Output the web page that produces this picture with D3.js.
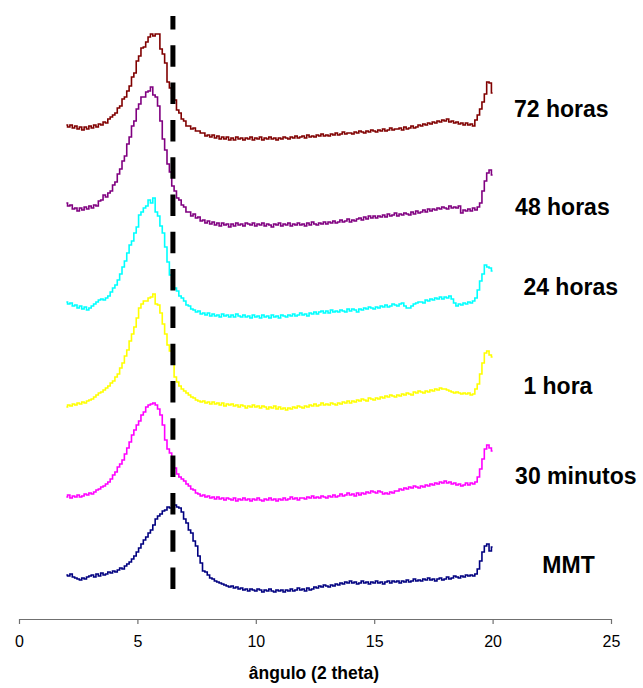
<!DOCTYPE html>
<html>
<head>
<meta charset="utf-8">
<script src="https://cdn.jsdelivr.net/npm/d3@7"></script>
<style>
  html, body { margin: 0; padding: 0; background: #ffffff; }
  svg { display: block; }
</style>
</head>
<body>
<div id="chart"></div>
<script>
// ---- DATA ----
const angles = d3.range(181).map(i => Math.round((2 + i * 0.1) * 10) / 10); // 2.0 .. 20.0 (2 theta)
const xTicks = [0, 5, 10, 15, 20, 25];
const xTitle = "ângulo (2 theta)";
const seriesNames = ["72 horas", "48 horas", "24 horas", "1 hora", "30 minutos", "MMT"];
const seriesColors = ["#800000", "#800080", "#00FFFF", "#FFFF00", "#FF00FF", "#000080"];

// intensities (stacked, arbitrary units) at each angle
const h72 = [
  494,492,494,491,493,490,492,489,492,490,
  493,491,494,492,495,494,497,496,500,502,
  504,506,511,513,520,522,528,533,542,546,
  558,563,571,572,577,582,585,583,585,585,
  570,565,556,537,531,525,519,509,506,500,
  498,493,493,490,491,488,488,486,486,483,
  484,482,484,481,483,480,482,480,482,479,
  481,479,482,480,481,479,481,480,482,479,
  481,480,482,479,481,480,482,480,481,479,
  481,480,482,481,480,482,481,483,481,482,
  483,481,484,482,483,482,484,483,485,483,
  484,483,485,484,486,484,485,487,485,486,
  486,485,487,486,488,487,486,488,487,489,
  488,487,489,488,490,488,489,491,489,490,
  490,491,489,492,490,491,493,491,492,494,
  493,495,494,496,495,497,496,498,497,499,
  498,500,497,498,496,497,495,496,494,496,
  494,495,493,499,504,510,517,525,537,536,
  526];
const h48 = [
  416,413,414,410,411,408,411,409,412,410,
  413,411,414,413,418,419,424,422,426,428,
  434,437,445,450,458,463,475,482,493,498,
  510,515,522,522,527,528,532,524,522,513,
  498,480,469,455,447,433,428,421,419,414,
  412,407,407,403,405,401,402,398,399,396,
  398,395,397,394,396,393,396,394,395,392,
  395,393,396,394,395,393,396,395,394,396,
  393,395,394,396,393,395,394,392,395,394,
  396,393,395,394,396,393,395,394,396,394,
  395,393,396,394,397,395,394,396,395,397,
  395,397,396,398,396,397,399,397,398,400,
  397,399,398,400,401,399,402,400,403,401,
  403,401,403,402,404,402,405,403,404,406,
  403,405,404,406,405,404,407,405,408,406,
  407,409,407,410,408,410,409,411,410,412,
  411,410,413,411,412,411,413,406,409,408,
  410,408,411,409,412,416,428,438,446,449,
  444];
const h24 = [
  317,315,316,313,314,311,313,310,312,309,
  311,313,315,317,319,320,319,321,323,327,
  331,334,339,345,352,358,366,374,378,386,
  392,404,407,411,413,419,416,421,407,403,
  393,386,372,357,344,337,331,328,323,321,
  318,314,313,310,309,307,308,305,306,304,
  306,303,305,303,304,302,305,303,304,302,
  304,302,305,303,302,304,302,303,301,304,
  302,303,301,304,302,303,301,304,302,303,
  301,304,303,302,304,303,305,303,304,306,
  304,305,303,306,305,307,305,307,308,306,
  308,306,309,307,308,307,309,308,307,310,
  308,310,309,307,310,309,311,310,312,311,
  310,312,311,313,312,314,312,313,315,314,
  313,315,316,313,311,311,313,315,316,317,
  317,316,319,318,320,319,321,320,322,320,
  322,321,323,320,316,313,315,314,316,315,
  317,316,318,321,329,338,345,354,352,351,
  348];
const h1 = [
  212,214,213,215,214,216,215,217,216,218,
  219,220,222,224,226,227,229,231,233,236,
  238,242,245,251,256,263,269,278,285,292,
  301,311,315,318,318,321,322,325,315,314,
  306,295,285,274,268,258,242,237,233,230,
  228,226,224,222,221,219,218,217,218,216,
  217,215,217,215,216,214,216,213,215,214,
  215,213,214,212,214,213,211,213,212,214,
  212,213,211,213,212,210,212,211,213,210,
  212,210,211,209,211,210,212,211,213,212,
  211,213,212,214,213,215,213,214,216,214,
  215,214,216,215,214,216,215,217,216,218,
  216,218,217,219,218,220,219,218,221,220,
  219,221,220,222,221,223,222,224,223,222,
  224,223,225,224,226,225,224,227,226,228,
  227,226,228,227,229,228,230,229,231,230,
  230,229,228,227,226,227,226,225,226,225,
  226,224,225,230,235,245,256,266,268,264,
  262];
const h30 = [
  122,124,121,123,122,124,122,123,125,124,
  126,125,127,129,130,132,133,135,137,140,
  144,147,152,155,159,165,171,177,184,189,
  194,198,204,207,212,214,215,216,214,210,
  204,194,179,170,166,159,151,145,142,140,
  138,135,133,130,129,126,125,123,124,122,
  123,121,122,120,122,120,121,119,121,120,
  119,121,118,120,119,121,119,120,118,120,
  119,121,119,118,120,119,121,119,120,118,
  120,119,121,119,120,122,120,121,119,121,
  121,120,122,121,123,121,122,121,123,122,
  121,123,122,124,122,123,125,123,124,126,
  124,125,123,126,124,126,125,127,126,128,
  127,126,128,127,125,126,125,127,126,128,
  128,130,129,131,130,132,131,133,132,131,
  133,132,134,133,135,134,136,135,137,136,
  138,136,137,135,136,134,135,133,134,136,
  134,136,135,137,142,150,160,170,174,171,
  168];
const hMMT = [
  44,43,45,42,41,40,39,41,40,42,
  43,44,42,45,43,46,44,45,47,46,
  48,47,49,51,50,53,55,57,60,63,
  67,71,75,79,82,86,89,94,100,103,
  105,108,109,112,111,113,114,112,111,107,
  100,96,89,86,78,73,63,56,48,47,
  44,41,40,38,37,36,35,34,33,32,
  33,31,32,30,31,29,30,28,30,29,
  28,30,29,27,29,28,30,28,27,29,
  28,29,27,29,28,30,28,29,31,29,
  30,28,31,29,30,32,31,33,32,34,
  33,32,34,33,35,34,36,35,37,36,
  38,36,37,35,36,38,36,37,35,37,
  36,38,36,37,35,37,38,36,38,37,
  38,36,38,37,39,37,38,40,38,39,
  38,40,39,41,39,40,38,40,41,39,
  40,42,40,41,43,42,41,43,42,44,
  43,44,43,45,50,58,67,73,75,68,
  72];
const seriesValues = [h72, h48, h24, h1, h30, hMMT];

const markerAngle = 6.5;          // dashed reference line (2 theta)
const markerSpan = [30, 603];     // bottom -> top in intensity units

// label anchors (data coords) for the series names
const labelAngle = [20.9, 20.95, 21.3, 21.3, 20.95, 22.1];
const labelLevel = [502, 404, 324, 225, 135, 46];

// ---- LAYOUT ----
const W = 643, H = 688;
const x = d3.scaleLinear().domain([0, 25]).range([19, 611]);
const y = d3.scaleLinear().domain([0, 600]).range([619, 19]);
const FONT = "'Liberation Sans', Arial, Helvetica, sans-serif";

const svg = d3.select("#chart").append("svg")
  .attr("width", W).attr("height", H)
  .attr("viewBox", `0 0 ${W} ${H}`);
svg.append("rect").attr("width", W).attr("height", H).attr("fill", "#ffffff");

// curves
const line = d3.line()
  .curve(d3.curveStep)
  .x((d, i) => x(angles[i]))
  .y(d => y(d));

const g = svg.append("g");
seriesValues.forEach((vals, k) => {
  g.append("path")
    .datum(vals)
    .attr("fill", "none")
    .attr("stroke", seriesColors[k])
    .attr("stroke-width", 1.6)
    .attr("stroke-linejoin", "miter")
    .attr("d", line);
});

// dashed marker line
svg.append("line")
  .attr("x1", x(markerAngle)).attr("x2", x(markerAngle))
  .attr("y1", y(markerSpan[0])).attr("y2", y(markerSpan[1]))
  .attr("stroke", "#000000")
  .attr("stroke-width", 5)
  .attr("stroke-dasharray", "21.5,15.8");

// labels
seriesNames.forEach((name, k) => {
  svg.append("text")
    .attr("x", x(labelAngle[k]))
    .attr("y", y(labelLevel[k]))
    .attr("font-family", FONT)
    .attr("font-weight", "bold")
    .attr("font-size", 23)
    .attr("fill", "#000000")
    .text(name);
});

// x axis
const axis = d3.axisBottom(x)
  .tickValues(xTicks)
  .tickFormat(d3.format("d"))
  .tickSize(5)
  .tickSizeOuter(0)
  .tickPadding(12);
const ax = svg.append("g")
  .attr("transform", `translate(0,${y(0)})`)
  .call(axis);
ax.select(".domain").attr("stroke", "#707070").attr("stroke-width", 1.2);
ax.selectAll(".tick line").attr("stroke", "#707070").attr("stroke-width", 1.2);
ax.selectAll(".tick text")
  .attr("font-family", FONT)
  .attr("font-size", 16)
  .attr("fill", "#000000");

// axis title
svg.append("text")
  .attr("x", 314)
  .attr("y", 679)
  .attr("text-anchor", "middle")
  .attr("font-family", FONT)
  .attr("font-weight", "bold")
  .attr("font-size", 17.5)
  .attr("fill", "#000000")
  .text(xTitle);
</script>
</body>
</html>
